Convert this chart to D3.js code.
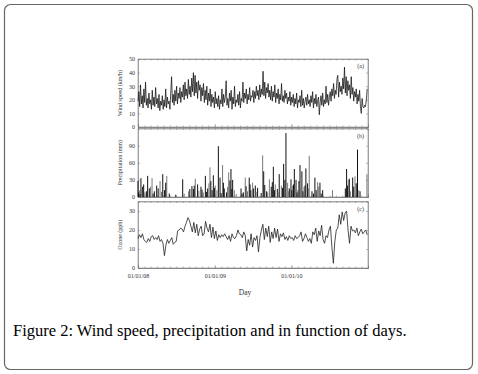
<!DOCTYPE html>
<html>
<head>
<meta charset="utf-8">
<script src="https://cdn.jsdelivr.net/npm/d3@7"></script>
<style>
  body { margin: 0; background: #fff; }
  svg { display: block; }
  .axis path { stroke: #777; stroke-width: 0.6; }
  .axis line { stroke: #777; stroke-width: 0.5; }
  .axis text { font-family: "Liberation Serif", serif; font-size: 6px; fill: #333; }
</style>
</head>
<body>
<svg id="fig" width="478" height="374"></svg>
<script>
// wind speed (km/h), one value every 4 days starting 01/01/2008
const windSpeed = [
  19, 26, 15, 31, 17, 23, 14, 28, 18, 33, 16, 21, 14, 25, 17, 20, 13, 27, 16, 22,
  15, 29, 17, 21, 14, 24, 12, 19, 16, 23, 13, 20, 15, 28, 14, 22, 17, 19, 13, 25,
  37, 18, 24, 16, 27, 19, 30, 17, 25, 21, 29, 18, 26, 22, 31, 20, 33, 23, 28, 21,
  35, 24, 30, 22, 36, 26, 40, 23, 38, 25, 33, 21, 34, 27, 31, 19, 29, 23, 32, 18,
  27, 20, 30, 16, 25, 19, 28, 15, 24, 18, 22, 14, 26, 17, 21, 15, 23, 13, 20, 17,
  28, 15, 24, 18, 22, 34, 16, 21, 14, 25, 19, 27, 13, 22, 17, 30, 15, 20, 18, 24,
  16, 26, 14, 21, 19, 33, 18, 25, 21, 28, 17, 24, 20, 29, 19, 23, 22, 27, 18, 26,
  21, 30, 23, 27, 20, 31, 22, 28, 24, 41, 23, 33, 21, 29, 25, 32, 22, 27, 20, 30,
  19, 26, 22, 31, 18, 25, 21, 28, 17, 24, 20, 32, 19, 23, 18, 27, 21, 25, 17, 22,
  19, 26, 16, 22, 18, 24, 15, 21, 17, 25, 14, 20, 18, 23, 15, 27, 16, 21, 14, 19,
  22, 16, 24, 17, 20, 15, 23, 18, 26, 14, 21, 17, 24, 15, 19, 22, 9, 18, 23, 16,
  25, 15, 20, 17, 30, 18, 24, 16, 22, 26, 19, 28, 23, 32, 21, 27, 24, 35, 38, 22,
  33, 26, 30, 24, 36, 28, 44, 25, 37, 23, 34, 27, 31, 21, 37, 24, 29, 19, 26, 22,
  28, 17, 24, 19, 27, 15, 10, 21, 15, 14, 16, 15, 20, 28
];

// precipitation events: day offset from 01/01/2008 and amount (mm)
const rainDay = [
  0, 6, 14, 22, 33, 46, 54, 67, 78, 89, 105, 118, 126, 137, 149, 213, 241, 257, 264, 273,
  284, 300, 311, 321, 332, 343, 353, 359, 368, 383, 391, 403, 411, 422, 432, 443, 451, 459, 491, 502,
  511, 530, 538, 546, 559, 570, 594, 599, 613, 626, 635, 645, 654, 664, 673, 683, 694, 705, 713, 721,
  729, 737, 745, 753, 762, 772, 781, 791, 800, 808, 816, 829, 843, 856, 867, 880, 927, 988, 994, 1002,
  1007, 1023, 1034, 1046, 1058, 1091,
  3, 10, 18, 27, 40, 60, 72, 96, 112, 132, 180, 220, 247, 268, 290, 305, 326, 338, 347, 364,
  376, 396, 407, 427, 438, 447, 468, 496, 515, 522, 534, 551, 563, 587, 604, 618, 640, 650, 668, 689,
  700, 717, 733, 741, 749, 758, 767, 776, 786, 796, 812, 836, 849, 861, 873, 998, 1012, 1028, 1040, 1052
];
const rainMm = [
  28, 12, 33, 18, 8, 37, 15, 33, 10, 20, 28, 40, 12, 37, 6, 31, 10, 19, 14, 32,
  22, 18, 8, 37, 15, 52, 12, 38, 20, 89, 34, 56, 15, 8, 43, 49, 30, 12, 15, 8,
  34, 34, 12, 25, 20, 16, 73, 45, 10, 31, 18, 53, 22, 14, 40, 20, 58, 112, 25, 15,
  31, 20, 49, 30, 12, 56, 45, 18, 50, 24, 72, 10, 34, 26, 25, 12, 12, 15, 49, 30,
  32, 34, 36, 83, 10, 40,
  8, 5, 14, 22, 10, 18, 6, 15, 9, 25, 4, 6, 14, 20, 11, 13, 9, 24, 28, 16,
  12, 7, 25, 18, 29, 14, 5, 6, 19, 10, 22, 15, 9, 7, 21, 8, 26, 12, 9, 16,
  30, 10, 12, 22, 14, 8, 28, 16, 10, 20, 15, 6, 12, 18, 6, 20, 10, 18, 24, 12
];

// ozone (ppb), weekly values starting 01/01/2008
const ozone = [
  15.5, 17.5, 16, 18, 15, 14, 13.5, 15.5, 14, 16.5, 17, 15, 16, 15, 17, 14, 15, 13, 6.5, 12,
  15, 13, 14.5, 16, 12.5, 13.5, 14, 19.5, 20, 21, 20.5, 19, 22, 24, 26.5, 25, 22, 19, 24, 18.5,
  23, 17, 20.5, 22, 17, 18, 24.5, 21, 19, 23, 16, 21.5, 15.5, 19.5, 14.5, 17.5, 16, 17.5, 16.5, 18,
  16.5, 15, 17, 14, 18, 16, 15.5, 17, 20, 18, 17.5, 16, 19, 17, 9, 15, 12, 18, 11, 16,
  14.5, 17, 8.5, 16, 20, 23, 15, 21, 16.5, 22, 13.5, 19, 15.5, 21, 16, 20.5, 14, 18, 16.5, 18.5,
  15, 16.5, 14.5, 17, 15.5, 16, 14.5, 17, 15.5, 16, 17, 19, 14, 15.5, 18, 16, 14, 15.5, 13, 19,
  17.5, 21, 14, 19.5, 17, 22.5, 15, 13, 17, 16, 20, 22, 11, 2.5, 14, 20, 21, 28, 23, 29.5,
  25, 29, 30, 20, 13, 22, 19.5, 20, 18.5, 21, 17, 19, 20.5, 18, 19, 20, 17.5
];

const windTicks = [0, 10, 20, 30, 40, 50];
const rainTicks = [0, 30, 60, 90];
const ozoneTicks = [0, 10, 20, 30];
const yearTicks = [new Date(2008, 0, 1), new Date(2009, 0, 1), new Date(2010, 0, 1)];

const start = new Date(2008, 0, 1);
const addDays = n => new Date(2008, 0, 1 + n);

const svg = d3.select('#fig');

// outer rounded frame
svg.append('rect')
  .attr('x', 4.5).attr('y', 4.5)
  .attr('width', 468).attr('height', 365)
  .attr('rx', 6)
  .attr('fill', 'none')
  .attr('stroke', '#666')
  .attr('stroke-width', 1.2);

const x = d3.scaleTime()
  .domain([start, new Date(2011, 0, 1)])
  .range([138, 368]);

const panels = [
  { top: 59, bottom: 127, max: 50, ticks: windTicks, title: 'Wind speed (km/h)', tag: '(a)' },
  { top: 128.5, bottom: 197, max: 120, ticks: rainTicks, title: 'Precipitation (mm)', tag: '(b)' },
  { top: 201.5, bottom: 268, max: 35, ticks: ozoneTicks, title: 'Ozone (ppb)', tag: '(c)' }
];

const months = d3.timeMonth.range(start, new Date(2011, 0, 1));

panels.forEach((p, k) => {
  p.y = d3.scaleLinear().domain([0, p.max]).range([p.bottom, p.top]);

  // panel box
  svg.append('rect')
    .attr('x', 138).attr('y', p.top)
    .attr('width', 230).attr('height', p.bottom - p.top)
    .attr('fill', 'none')
    .attr('stroke', '#888')
    .attr('stroke-width', 0.6);

  // minor monthly ticks, bottom and top
  svg.append('g').attr('class', 'axis')
    .attr('transform', 'translate(0,' + p.bottom + ')')
    .call(d3.axisBottom(x).tickValues(months).tickSize(-1.5).tickFormat(''));
  svg.append('g').attr('class', 'axis')
    .attr('transform', 'translate(0,' + p.top + ')')
    .call(d3.axisTop(x).tickValues(months).tickSize(-1.5).tickFormat(''));

  // major yearly ticks
  svg.append('g').attr('class', 'axis')
    .attr('transform', 'translate(0,' + p.bottom + ')')
    .call(d3.axisBottom(x).tickValues(yearTicks).tickSize(-3)
      .tickFormat(k == 2 ? d3.timeFormat('%m/%d/%y') : '')
      .tickPadding(6));

  // y axis left, inward ticks
  svg.append('g').attr('class', 'axis')
    .attr('transform', 'translate(138,0)')
    .call(d3.axisLeft(p.y).tickValues(p.ticks).tickSize(-2).tickPadding(3));
  svg.append('g').attr('class', 'axis')
    .attr('transform', 'translate(368,0)')
    .call(d3.axisRight(p.y).tickValues(p.ticks).tickSize(-2).tickFormat(''));

  // y title
  svg.append('text')
    .attr('transform', 'translate(122,' + ((p.top + p.bottom) / 2) + ') rotate(-90)')
    .attr('text-anchor', 'middle')
    .style('font-family', '"Liberation Serif", serif')
    .style('font-size', '6px')
    .attr('fill', '#333')
    .text(p.title);

  // panel tag
  svg.append('text')
    .attr('x', 364).attr('y', p.top + 9)
    .attr('text-anchor', 'end')
    .style('font-family', '"Liberation Serif", serif')
    .style('font-size', '6px')
    .attr('fill', '#333')
    .text(p.tag);
});

// (a) wind speed line
const windLine = d3.line()
  .x((d, i) => x(addDays(i * 4)))
  .y(d => panels[0].y(d));
svg.append('path')
  .datum(windSpeed)
  .attr('d', windLine)
  .attr('fill', 'none')
  .attr('stroke', '#111')
  .attr('stroke-width', 0.75);

// (b) precipitation spikes
svg.append('g').selectAll('line')
  .data(rainDay)
  .enter()
  .append('line')
  .attr('x1', d => x(addDays(d)))
  .attr('x2', d => x(addDays(d)))
  .attr('y1', panels[1].y(0))
  .attr('y2', (d, i) => panels[1].y(rainMm[i]))
  .attr('stroke', (d, i) => i % 3 == 1 ? '#777' : '#111')
  .attr('stroke-width', 1);

// (c) ozone line
const ozoneLine = d3.line()
  .x((d, i) => x(addDays(i * 7)))
  .y(d => panels[2].y(d));
svg.append('path')
  .datum(ozone)
  .attr('d', ozoneLine)
  .attr('fill', 'none')
  .attr('stroke', '#222')
  .attr('stroke-width', 0.8);

// x axis title
svg.append('text')
  .attr('x', 245).attr('y', 295)
  .attr('text-anchor', 'middle')
  .style('font-family', '"Liberation Serif", serif')
  .style('font-size', '7.5px')
  .attr('fill', '#333')
  .text('Day');

// caption
svg.append('text')
  .attr('x', 13).attr('y', 336)
  .style('font-family', '"Liberation Serif", serif')
  .style('font-size', '16.5px')
  .attr('fill', '#000')
  .text('Figure 2: Wind speed, precipitation and in function of days.');
</script>
</body>
</html>
